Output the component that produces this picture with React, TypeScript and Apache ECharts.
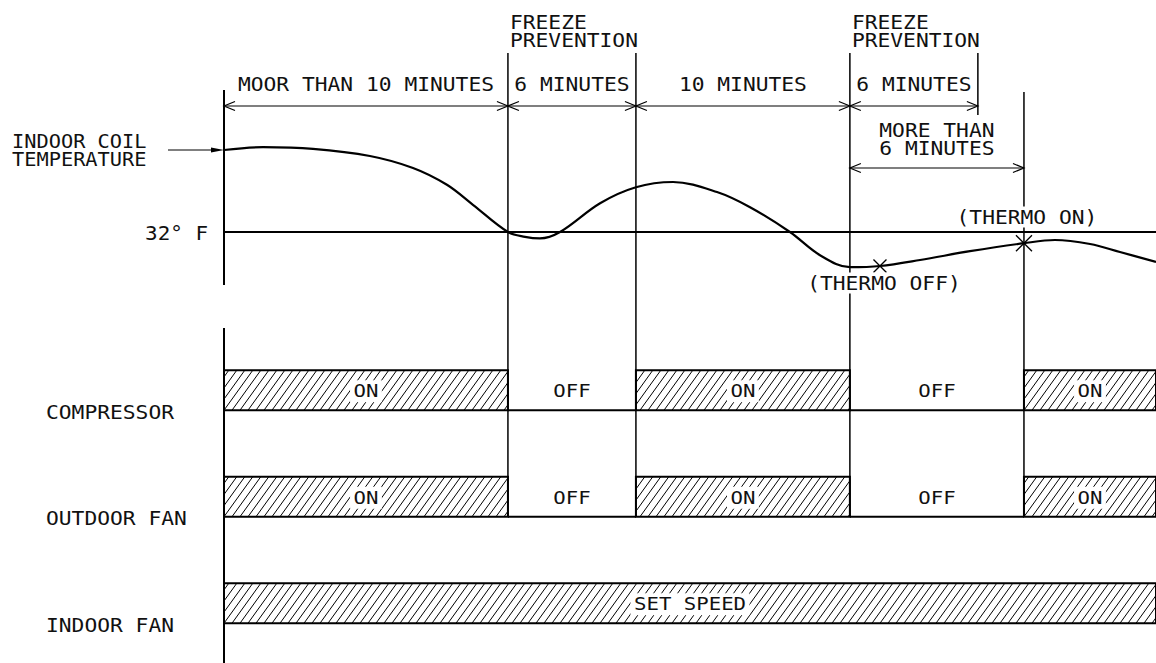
import React, { useEffect, useRef } from 'react';
import * as echarts from 'echarts';

const FONT = '"DejaVu Sans Mono", monospace';

// time axis in minutes
const TIME_END = 43.69;
const FREEZE_LEVEL = 32; // °F

// indoor coil temperature curve (minutes, °F)
const tempTime = [0, 1.83, 4.17, 6.84, 8.86, 10.45, 11.67, 13.31, 14.11, 14.81, 15.75, 17.63, 19.31, 21.05, 23.11, 24.66, 26.53, 27.94, 29.34, 30.75, 32.63, 34.97, 37.5, 38.95, 40.6, 42.0, 43.69];
const tempValue = [42.25, 42.6, 42.4, 41.5, 40.0, 37.9, 35.4, 32.0, 31.4, 31.2, 32.0, 35.6, 37.6, 38.25, 37.0, 35.1, 32.0, 29.1, 27.6, 27.75, 28.5, 29.6, 30.6, 31.0, 30.5, 29.5, 28.25];

const thermoOff = [30.75, 27.75];
const thermoOn = [37.5, 30.6];

// dimension spans along the top
const spanEdges = [0, 13.31, 19.31, 29.34, 35.34];
const spanLabels = ['MOOR THAN 10 MINUTES', '6 MINUTES', '10 MINUTES', '6 MINUTES'];
const freezeStarts = [13.31, 29.34];
const freezeLabel = ['FREEZE', 'PREVENTION'];
const restartSpan = [29.34, 37.5];
const restartLabel = ['MORE THAN', '6 MINUTES'];

// operating states
const stateRows = ['COMPRESSOR', 'OUTDOOR FAN', 'INDOOR FAN'];
const compressorStates: [string, number, number][] = [
  ['ON', 0, 13.31], ['OFF', 13.31, 19.31], ['ON', 19.31, 29.34], ['OFF', 29.34, 37.5], ['ON', 37.5, TIME_END],
];
const outdoorFanStates: [string, number, number][] = [
  ['ON', 0, 13.31], ['OFF', 13.31, 19.31], ['ON', 19.31, 29.34], ['OFF', 29.34, 37.5], ['ON', 37.5, TIME_END],
];
const indoorFanStates: [string, number, number][] = [['SET SPEED', 0, TIME_END]];

const stateSegments = [compressorStates, outdoorFanStates, indoorFanStates].flatMap((list, row) =>
  list.map(([label, start, end]) => ({ label, start, end, row, on: label !== 'OFF' }))
);

const textEl = (text: string, x: number, y: number, o: any = {}) => ({
  type: 'text',
  x,
  y,
  z: 20,
  scaleX: o.scaleX ?? 1.12,
  silent: true,
  style: {
    text,
    fontSize: o.fontSize ?? 19,
    fontFamily: FONT,
    fill: '#111',
    align: o.align ?? 'left',
    textAlign: o.align ?? 'left',
    verticalAlign: 'middle',
    textVerticalAlign: 'middle',
    backgroundColor: o.bg,
    padding: o.bg ? [1, 3] : 0,
  },
});

const lineEl = (x1: number, y1: number, x2: number, y2: number, w = 1.5) => ({
  type: 'line',
  z: 5,
  silent: true,
  shape: { x1, y1, x2, y2 },
  style: { stroke: '#000', lineWidth: w },
});

const arrowHead = (x: number, y: number, dir: number) => ({
  type: 'polyline',
  z: 5,
  silent: true,
  shape: { points: [[x - dir * 11, y - 4.5], [x, y], [x - dir * 11, y + 4.5]] },
  style: { stroke: '#000', lineWidth: 1.2, fill: 'none' },
});

const renderCross = (params: any, api: any) => {
  const p = api.coord([api.value(0), api.value(1)]);
  const r = params.dataIndex === 1 ? 8 : 6.5;
  return {
    type: 'group',
    children: [
      { type: 'line', shape: { x1: p[0] - r, y1: p[1] - r, x2: p[0] + r, y2: p[1] + r }, style: { stroke: '#000', lineWidth: 1.3 } },
      { type: 'line', shape: { x1: p[0] - r, y1: p[1] + r, x2: p[0] + r, y2: p[1] - r }, style: { stroke: '#000', lineWidth: 1.3 } },
    ],
  };
};

const renderState = (params: any, api: any) => {
  const seg = stateSegments[params.dataIndex];
  const s = api.coord([api.value(0), api.value(2)]);
  const e = api.coord([api.value(1), api.value(2)]);
  const band = api.size([0, 1])[1];
  const h = band * 0.375;
  const yTop = s[1] - h / 2;
  const yBot = s[1] + h / 2;
  const x0 = s[0];
  const x1 = e[0];
  const children: any[] = [];
  if (seg.on) {
    const dx = h * 0.72;
    const step = 8;
    const origin = params.coordSys.x;
    const kMin = Math.floor((x0 - dx - origin) / step);
    const kMax = Math.ceil((x1 - origin) / step);
    for (let k = kMin; k <= kMax; k++) {
      const xb = origin + k * step;
      const uMin = Math.max(0, (x0 - xb) / dx);
      const uMax = Math.min(1, (x1 - xb) / dx);
      if (uMax > uMin) {
        children.push({
          type: 'line',
          shape: { x1: xb + uMin * dx, y1: yBot - uMin * h, x2: xb + uMax * dx, y2: yBot - uMax * h },
          style: { stroke: '#000', lineWidth: 1 },
        });
      }
    }
    children.push({
      type: 'rect',
      shape: { x: x0, y: yTop, width: x1 - x0, height: h },
      style: { fill: 'none', stroke: '#000', lineWidth: 2 },
    });
  } else {
    children.push({
      type: 'line',
      shape: { x1: x0, y1: yBot, x2: x1, y2: yBot },
      style: { stroke: '#000', lineWidth: 2 },
    });
  }
  children.push({
    type: 'text',
    x: (x0 + x1) / 2,
    y: s[1] + 1,
    scaleX: 1.15,
    z2: 10,
    style: {
      text: seg.label,
      fontSize: 18,
      fontFamily: FONT,
      fill: '#111',
      align: 'center',
      textAlign: 'center',
      verticalAlign: 'middle',
      textVerticalAlign: 'middle',
      backgroundColor: seg.on ? '#fff' : undefined,
      padding: seg.on ? [2, 3] : 0,
    },
  });
  return { type: 'group', children };
};

export default function App() {
  const ref = useRef<HTMLDivElement>(null);
  useEffect(() => {
    if (!ref.current) return;
    const chart = echarts.init(ref.current, undefined, { renderer: 'svg' });
    const option: any = {
      animation: false,
      backgroundColor: '#fff',
      grid: [
        { left: 224, right: 0, top: 48, height: 240 },
        { left: 224, right: 0, top: 337, height: 319.5 },
      ],
      xAxis: [
        { type: 'value', gridIndex: 0, min: 0, max: TIME_END, show: false },
        { type: 'value', gridIndex: 1, min: 0, max: TIME_END, show: false },
      ],
      yAxis: [
        { type: 'value', gridIndex: 0, min: 25, max: 55, show: false },
        { type: 'category', gridIndex: 1, data: stateRows, inverse: true, show: false },
      ],
      series: [
        {
          type: 'line',
          xAxisIndex: 0,
          yAxisIndex: 0,
          data: tempTime.map((t, i) => [t, tempValue[i]]),
          smooth: 0.35,
          symbol: 'none',
          lineStyle: { color: '#000', width: 2.2 },
          markLine: {
            silent: true,
            symbol: 'none',
            label: { show: false },
            lineStyle: { color: '#000', width: 2, type: 'solid' },
            data: [{ yAxis: FREEZE_LEVEL }],
          },
        },
        {
          type: 'custom',
          xAxisIndex: 0,
          yAxisIndex: 0,
          data: [thermoOff, thermoOn],
          renderItem: renderCross,
        },
        {
          type: 'custom',
          xAxisIndex: 1,
          yAxisIndex: 1,
          data: stateSegments.map((s) => [s.start, s.end, s.row]),
          encode: { x: [0, 1], y: 2 },
          renderItem: renderState,
        },
      ],
    };
    chart.setOption(option);

    const X = (t: number) => chart.convertToPixel({ xAxisIndex: 0 } as any, t) as unknown as number;
    const Y = (v: number) => chart.convertToPixel({ yAxisIndex: 0 } as any, v) as unknown as number;
    const R = (i: number) => chart.convertToPixel({ yAxisIndex: 1 } as any, i) as unknown as number;
    const band = R(1) - R(0);
    const barH = band * 0.375;
    const fanBottom = R(1) + barH / 2;

    const g: any[] = [];
    // left axis
    g.push(lineEl(X(0), 90, X(0), 285, 2));
    g.push(lineEl(X(0), 328, X(0), 663, 2));
    // phase boundaries
    [spanEdges[1], spanEdges[2], spanEdges[3]].forEach((t) => g.push(lineEl(X(t), 53, X(t), fanBottom, 1.5)));
    g.push(lineEl(X(restartSpan[1]), 92, X(restartSpan[1]), fanBottom, 1.5));
    g.push(lineEl(X(spanEdges[4]), 53, X(spanEdges[4]), 115, 1.5));
    // top dimension arrows
    const yArr = 106;
    g.push(lineEl(X(spanEdges[0]), yArr, X(spanEdges[4]), yArr, 1.2));
    for (let i = 0; i < spanLabels.length; i++) {
      const a = X(spanEdges[i]);
      const b = X(spanEdges[i + 1]);
      g.push(arrowHead(a, yArr, -1));
      g.push(arrowHead(b, yArr, 1));
      g.push(textEl(spanLabels[i], (a + b) / 2, 84, { align: 'center' }));
    }
    // freeze prevention labels
    freezeStarts.forEach((t) => {
      g.push(textEl(freezeLabel[0], X(t) + 2, 22));
      g.push(textEl(freezeLabel[1], X(t) + 2, 40));
    });
    // more than 6 minutes
    const ra = X(restartSpan[0]);
    const rb = X(restartSpan[1]);
    g.push(lineEl(ra, 168, rb, 168, 1.2));
    g.push(arrowHead(ra, 168, -1));
    g.push(arrowHead(rb, 168, 1));
    g.push(textEl(restartLabel[0], (ra + rb) / 2, 130, { align: 'center' }));
    g.push(textEl(restartLabel[1], (ra + rb) / 2, 148, { align: 'center' }));
    // thermo labels
    g.push(textEl('(THERMO OFF)', X(thermoOff[0]) + 4, 283, { align: 'center', bg: '#fff' }));
    g.push(textEl('(THERMO ON)', X(thermoOn[0]) + 3, 217, { align: 'center', bg: '#fff' }));
    // temperature labels
    const y0 = Y(tempValue[0]);
    g.push(lineEl(168, y0, X(0) - 10, y0, 1));
    g.push({
      type: 'polygon',
      z: 6,
      silent: true,
      shape: { points: [[X(0) - 13, y0 - 2.5], [X(0), y0], [X(0) - 13, y0 + 2.5]] },
      style: { fill: '#000' },
    });
    g.push(textEl('INDOOR COIL', 12, 142, { scaleX: 1.07 }));
    g.push(textEl('TEMPERATURE', 12, 160, { scaleX: 1.07 }));
    g.push(textEl('32° F', X(0) - 16, Y(FREEZE_LEVEL) + 1, { align: 'right', scaleX: 1.1 }));
    // state row labels
    stateRows.forEach((name, i) => g.push(textEl(name, 46, R(i) + barH / 2 + 2)));

    chart.setOption({ graphic: g });
    return () => chart.dispose();
  }, []);
  return <div ref={ref} style={{ position: 'absolute', left: 0, top: 0, width: 1156, height: 663 }} />;
}
